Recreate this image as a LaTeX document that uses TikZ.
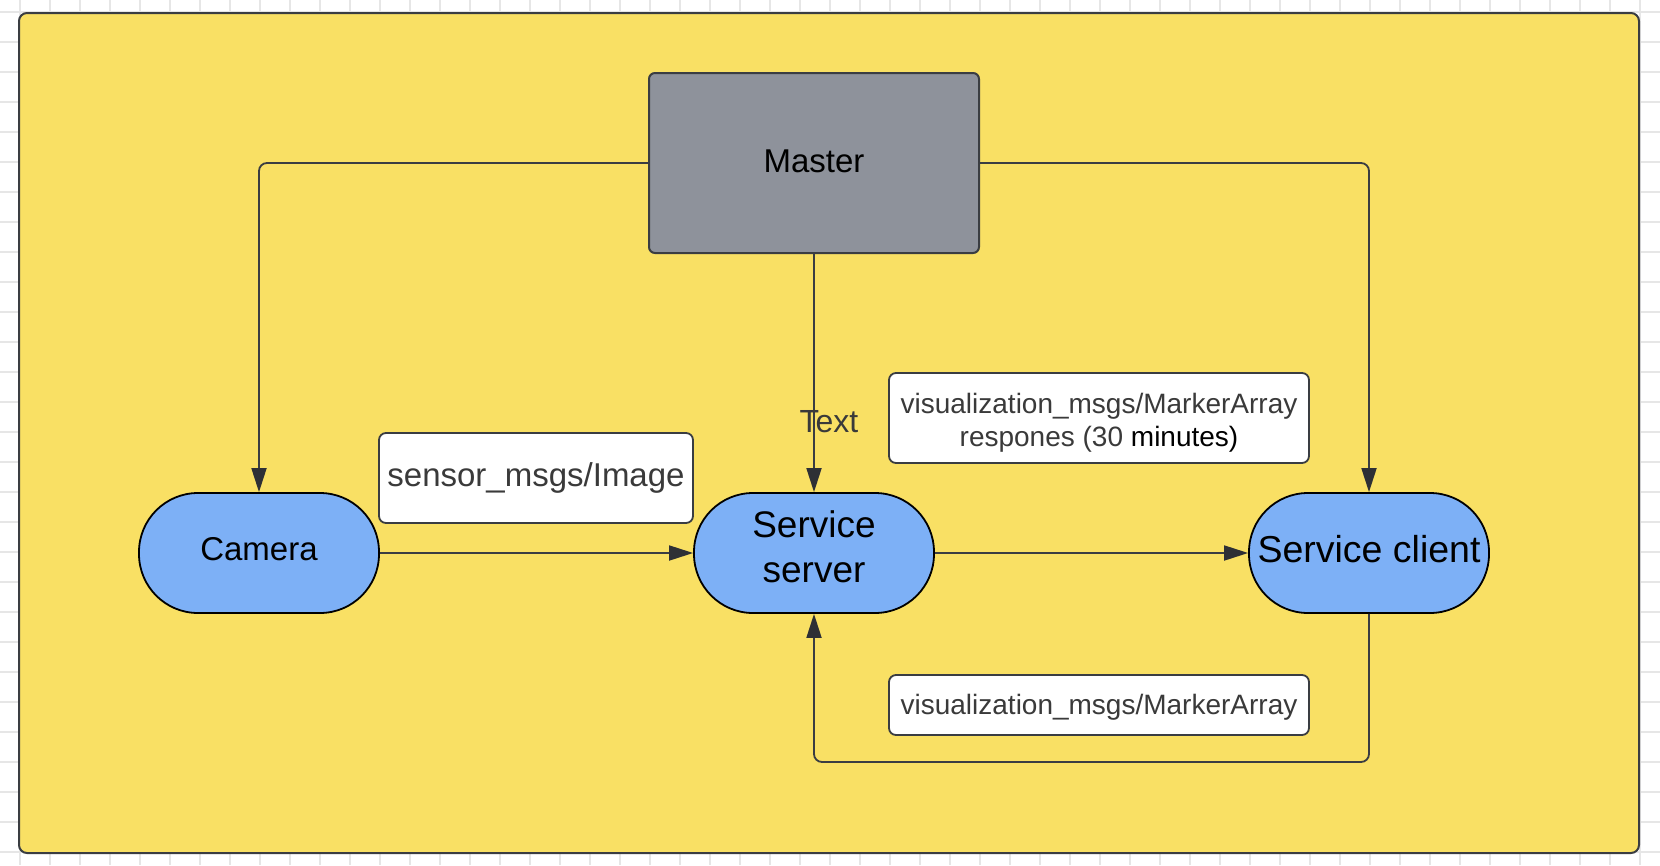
\documentclass[tikz,border=0pt]{standalone}
\usepackage{fontspec}
\setmainfont{Liberation Sans}
\usetikzlibrary{arrows.meta}
\definecolor{bgyellow}{HTML}{F9E064}
\definecolor{pillblue}{HTML}{7DB0F6}
\definecolor{mastergray}{HTML}{8E929B}
\definecolor{edgegray}{HTML}{3A3D42}
\definecolor{arrowdark}{HTML}{2E3035}
\definecolor{gridgray}{HTML}{E6E6E6}
\definecolor{labeltext}{HTML}{3A3A3A}
\tikzset{
  gridline/.style={draw=gridgray, line width=1.2pt},
  container/.style={draw=edgegray, line width=2pt, fill=bgyellow, rounded corners=8pt},
  pill/.style={draw=black, line width=1.8pt, fill=pillblue, rounded corners=59pt,
    minimum width=240pt, minimum height=120pt, inner sep=0pt},
  pilltext/.style={align=center, text=black, inner sep=0pt, font=\fontsize{37}{45}\selectfont},
  masterbox/.style={draw=edgegray, line width=2pt, fill=mastergray, rounded corners=6pt,
    minimum width=330pt, minimum height=180pt, inner sep=0pt},
  msgbox/.style={draw=edgegray, line width=1.8pt, fill=white, rounded corners=7pt,
    inner sep=0pt},
  msgtext/.style={align=center, text=labeltext, inner sep=0pt},
  conn/.style={draw=edgegray, line width=1.8pt, rounded corners=8pt,
    -{Triangle[length=24pt, width=15pt, color=arrowdark]}},
  freetext/.style={text=labeltext, font=\fontsize{32}{38}\selectfont, inner sep=0pt}
}
\begin{document}
\begin{tikzpicture}[x=1pt, y=-1pt]
\useasboundingbox (0,0) rectangle (1660,865);
\fill[white] (0,0) rectangle (1660,865);
\foreach \gx in {20,50,...,1640} \draw[gridline] (\gx,0) -- (\gx,865);
\foreach \gy in {12,42,...,852} \draw[gridline] (0,\gy) -- (1660,\gy);
\path[container] (19,13) rectangle (1639,853);

\node[masterbox, label={[pilltext, font=\fontsize{33}{40}\selectfont, yshift=2pt]center:Master}] (master) at (814,163) {};
\node[pill, label={[pilltext, font=\fontsize{33}{40}\selectfont, yshift=4pt]center:Camera}] (cam) at (259,553) {};
\node[pill, label={[pilltext, yshift=6pt]center:Service\\server}] (server) at (814,553) {};
\node[pill, label={[pilltext, font=\fontsize{37.5}{45}\selectfont, yshift=4pt]center:Service client}] (client) at (1369,553) {};

\node[msgbox, minimum width=314pt, minimum height=90pt,
  label={[msgtext, font=\fontsize{33}{40}\selectfont]center:sensor\_msgs/Image}] (lsensor) at (536,478) {};
\node[msgbox, minimum width=420pt, minimum height=90pt,
  label={[msgtext, font=\fontsize{28}{33}\selectfont, yshift=-5pt]center:visualization\_msgs/MarkerArray\\respones (30 \textcolor{black}{minutes)}}] (lresp) at (1099,418) {};
\node[msgbox, minimum width=420pt, minimum height=60pt,
  label={[msgtext, font=\fontsize{28}{33}\selectfont, yshift=-2pt]center:visualization\_msgs/MarkerArray}] (lreq) at (1099,705) {};

\coordinate (loop) at (1369,762);

\draw[conn] (master.west) -| (cam.north);
\draw[conn] (master.east) -| (client.north);
\draw[conn] (master.south) -- (server.north);
\draw[conn] (cam.east) -- (server.west);
\draw[conn] (server.east) -- (client.west);
\draw[conn] (client.south) -- (loop) -| (server.south);

\node[freetext] (txt) at (829,422) {Text};
\end{tikzpicture}
\end{document}
